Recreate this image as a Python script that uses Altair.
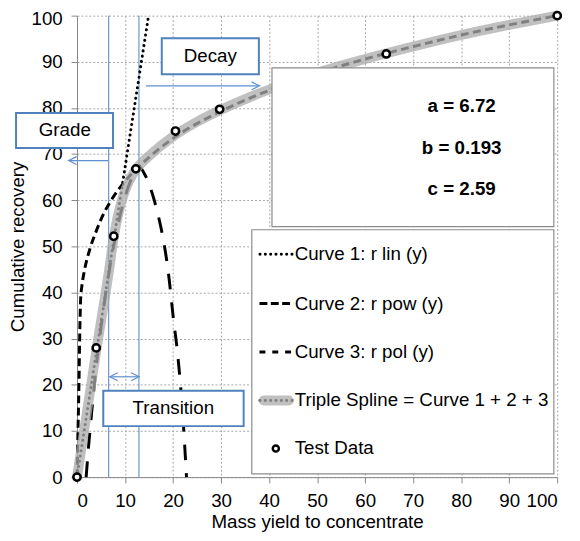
import altair as alt
import pandas as pd

# ---------------- data ----------------
test_x = [0, 4.0, 7.65, 12.25, 20.5, 29.7, 64.4, 100]
test_y = [0, 28.0, 52.2, 66.8, 75.0, 79.7, 91.7, 100]

curve1_x = [0, 14.9]
curve1_y = [0, 100]

curve2_x = [0, 0.2, 0.4, 0.55, 0.75, 1.0, 1.5, 2.7, 4, 5.5, 7, 10, 15, 20, 30, 40, 50, 60, 70, 80, 90, 100]
curve2_y = [0, 10, 20, 30, 38.5, 41.3, 44.5, 49.5, 53.3, 57.0, 59.8, 64.1, 69.3, 73.4, 79.3, 83.8, 87.5, 90.6, 93.3, 95.8, 98.0, 100]

curve3_x = [1.9, 2.4, 3.0, 4, 5, 6, 7, 8, 9, 10, 11, 12, 13, 14, 15, 16, 17, 18, 19, 20, 21, 22, 22.8]
curve3_y = [0, 6.6, 13.5, 24, 32.5, 40, 46.5, 52, 56.8, 60.7, 63.8, 66.0, 67.2, 65.8, 63.5, 60.3, 56.3, 51.3, 44.5, 35.0, 26.2, 13.8, 0]

spline_x = [0, 4.0, 6.72, 7.65, 8.5, 9.5, 10.5, 11.5, 12.25, 13, 15, 20, 25, 30, 40, 50, 60, 70, 80, 90, 100]
spline_y = [0, 27.3, 45.2, 52.0, 56.6, 60.5, 63.4, 65.4, 66.7, 67.6, 69.6, 73.8, 77.0, 79.6, 84.0, 87.6, 90.6, 93.3, 95.8, 98.0, 100]

boundary_x = [6.6, 12.9]

param_labels = ["a = 6.72", "b = 0.193", "c = 2.59"]
zone_labels = ["Decay", "Grade", "Transition"]
legend_labels = ["Curve 1: r lin (y)", "Curve 2: r pow (y)", "Curve 3: r pol (y)",
                 "Triple Spline = Curve 1 + 2 + 3", "Test Data"]

# ---------------- layout (data coordinates) ----------------
FONT = "Liberation Sans"
FS = 19
BLUE = "#4f81bd"
ARROW = "#5b8fd0"
W, H = 487, 468

xs = alt.Scale(domain=[0, 100], nice=False, zero=False)
ys = alt.Scale(domain=[0, 100], nice=False, zero=False)

x_axis = alt.Axis(values=list(range(0, 101, 10)), title="Mass yield to concentrate",
                  titleY=45, titleBaseline="middle", labelPadding=9)
y_axis = alt.Axis(values=list(range(0, 101, 10)), title="Cumulative recovery",
                  titleX=-60, titleY=H / 2, titleBaseline="middle", titleAlign="center",
                  labelPadding=9,
                  labelOffset={"condition": {"test": "datum.value == 100", "value": 3}, "value": 0})


def X(f="x"):
    return alt.X(f, type="quantitative", scale=xs, axis=x_axis)


def Y(f="y"):
    return alt.Y(f, type="quantitative", scale=ys, axis=y_axis)


df_test = pd.DataFrame({"x": test_x, "y": test_y})
df_c1 = pd.DataFrame({"x": curve1_x, "y": curve1_y})
df_c2 = pd.DataFrame({"x": curve2_x, "y": curve2_y})
df_c3 = pd.DataFrame({"x": curve3_x, "y": curve3_y})
df_sp = pd.DataFrame({"x": spline_x, "y": spline_y})

# blue zone boundaries
df_bound = pd.DataFrame({"x": boundary_x, "y": [0, 0], "y2": [100, 100]})
bounds = alt.Chart(df_bound).mark_rule(color=BLUE, strokeWidth=1).encode(
    x=X("x"), y=Y("y"), y2="y2")

dot = dict(strokeDash=[0.1, 5.3], strokeCap="round", strokeWidth=3, color="black")
dash2 = dict(strokeDash=[8, 4.5], strokeWidth=3, color="black")
dash3 = dict(strokeDash=[16, 13], strokeWidth=3, color="black")
band = dict(strokeWidth=10, color="#ababab", opacity=0.75, strokeCap="round")

c1 = alt.Chart(df_c1).mark_line(**dot).encode(x=X(), y=Y())
c2 = alt.Chart(df_c2).mark_line(interpolate="monotone", **dash2).encode(x=X(), y=Y())
c3 = alt.Chart(df_c3).mark_line(interpolate="monotone", **dash3).encode(x=X(), y=Y())
sp = alt.Chart(df_sp).mark_line(interpolate="monotone", strokeJoin="round", **band).encode(x=X(), y=Y())

pts = alt.Chart(df_test).mark_point(shape="circle", filled=True, fill="white", stroke="black",
                                    strokeWidth=2.5, size=55, opacity=1).encode(x=X(), y=Y())

# ---- annotation boxes ----
box_x = [17.65, -12.7, 5.47]
box_x2 = [37.87, 7.5, 34.7]
box_y = [95.1, 78.9, 18.7]
box_y2 = [87.3, 71.3, 11.05]
txt_x = [27.76, -2.55, 20.05]
txt_y = [91.2, 75.1, 14.9]
df_box = pd.DataFrame({"x": box_x, "x2": box_x2, "y": box_y, "y2": box_y2,
                       "tx": txt_x, "ty": txt_y, "label": zone_labels})
boxes = alt.Chart(df_box).mark_rect(fill="white", stroke=BLUE, strokeWidth=2).encode(
    x=X("x"), x2="x2", y=Y("y"), y2="y2")
box_text = alt.Chart(df_box).mark_text(font=FONT, fontSize=FS, color="black",
                                       align="center", baseline="middle").encode(
    x=X("tx"), y=Y("ty"), text="label")

# ---- arrows ----
df_arr = pd.DataFrame({"x": [14.36, -1.73, 6.84], "x2": [38.0, 6.5, 12.92],
                       "y": [84.8, 68.6, 21.74]})
arr_lines = alt.Chart(df_arr).mark_rule(color=ARROW, strokeWidth=1.2).encode(
    x=X("x"), x2="x2", y=Y("y"))
df_head_r = pd.DataFrame({"x": [38.0, 12.92], "y": [84.8, 21.74]})
df_head_l = pd.DataFrame({"x": [-1.73, 6.84], "y": [68.6, 21.74]})
head_r = alt.Chart(df_head_r).mark_point(shape="M-2,-1L0,0L-2,1", filled=False, stroke=ARROW,
                                         strokeWidth=1.2, size=64, opacity=1).encode(x=X(), y=Y())
head_l = alt.Chart(df_head_l).mark_point(shape="M2,-1L0,0L2,1", filled=False, stroke=ARROW,
                                         strokeWidth=1.2, size=64, opacity=1).encode(x=X(), y=Y())

# ---- parameter box ----
df_pbox = pd.DataFrame({"x": [40.6], "x2": [99.3], "y": [88.7], "y2": [54.3]})
pbox = alt.Chart(df_pbox).mark_rect(fill="white", stroke="#8c8c8c", strokeWidth=1.2).encode(
    x=X("x"), x2="x2", y=Y("y"), y2="y2")
df_ptxt = pd.DataFrame({"x": [80.1, 80.1, 80.1], "y": [80.4, 71.3, 62.4], "label": param_labels})
ptxt = alt.Chart(df_ptxt).mark_text(font=FONT, fontSize=FS, fontWeight="bold", color="black",
                                    align="center", baseline="middle").encode(
    x=X(), y=Y(), text="label")

# ---- legend ----
leg_rows = [48.3, 37.6, 27.1, 16.6, 6.2]
df_lbox = pd.DataFrame({"x": [36.4], "x2": [99.3], "y": [53.6], "y2": [0.7]})
lbox = alt.Chart(df_lbox).mark_rect(fill="white", stroke="#8c8c8c", strokeWidth=1.2).encode(
    x=X("x"), x2="x2", y=Y("y"), y2="y2")
df_ltxt = pd.DataFrame({"x": [45.33] * 5, "y": leg_rows, "label": legend_labels})
ltxt = alt.Chart(df_ltxt).mark_text(font=FONT, fontSize=FS, color="black",
                                    align="left", baseline="middle").encode(
    x=X(), y=Y(), text="label")


def seg(row, x0, x1, **style):
    d = pd.DataFrame({"x": [x0], "x2": [x1], "y": [leg_rows[row]]})
    return alt.Chart(d).mark_rule(**style).encode(x=X("x"), x2="x2", y=Y("y"))


l1 = seg(0, 38.1, 45.0, **dot)
l2 = seg(1, 38.0, 45.1, strokeDash=[8, 3.5], strokeWidth=3, color="black")
l3 = seg(2, 38.0, 45.1, strokeDash=[6, 7], strokeWidth=3, color="black")
l4a = seg(3, 38.1, 45.0, **dot)
l4b = seg(3, 38.9, 44.1, **band)
df_lpt = pd.DataFrame({"x": [41.4], "y": [leg_rows[4]]})
l5 = alt.Chart(df_lpt).mark_point(shape="circle", filled=True, fill="white", stroke="black",
                                  strokeWidth=2.5, size=38, opacity=1).encode(x=X(), y=Y())

chart = alt.layer(
    bounds, c1, c2, c3, sp, pts,
    arr_lines, head_r, head_l, boxes, box_text,
    pbox, ptxt, lbox, l1, l2, l3, l4a, l4b, l5, ltxt,
).properties(
    width=W, height=H,
    padding={"left": 70, "top": 4, "right": 15, "bottom": 58},
    autosize=alt.AutoSizeParams(type="none"),
).configure_view(stroke=None).configure_axis(
    labelFont=FONT, labelFontSize=FS, labelColor="black",
    titleFont=FONT, titleFontSize=FS, titleFontWeight="normal", titleColor="black",
    domainColor="#868686", tickColor="#868686", tickSize=6,
    gridColor="#a6a6a6", gridDash=[2, 2], gridWidth=1,
)

chart.save("out.html", embed_options={"renderer": "svg", "actions": False})
